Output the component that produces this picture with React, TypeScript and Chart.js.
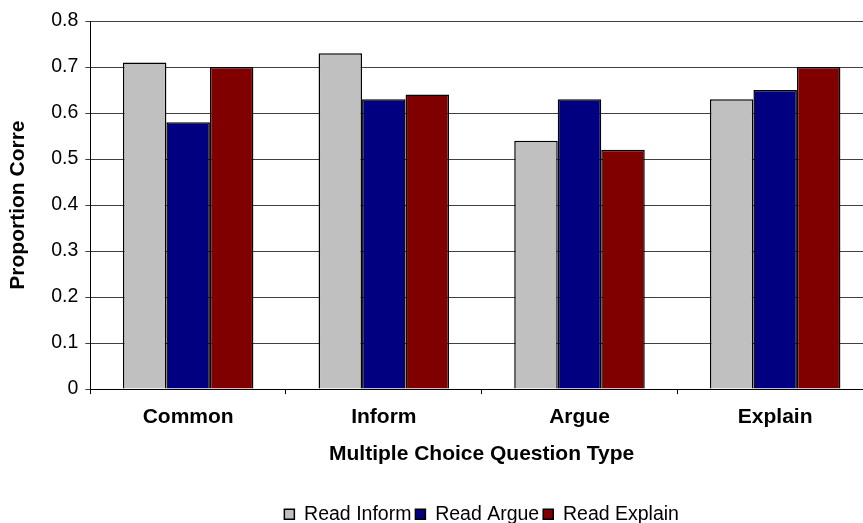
import React, { useEffect, useRef } from "react";
import { Chart, registerables } from "chart.js";

Chart.register(...registerables);

const categories = ["Common", "Inform", "Argue", "Explain"];
const readInform = [0.71, 0.73, 0.54, 0.63];
const readArgue = [0.58, 0.63, 0.63, 0.65];
const readExplain = [0.70, 0.64, 0.52, 0.70];
const seriesNames = ["Read Inform", "Read Argue", "Read Explain"];
const seriesColors = ["#C0C0C0", "#000080", "#800000"];

const FONT = "'Liberation Sans', Arial, sans-serif";

export default function App() {
  const ref = useRef<HTMLCanvasElement | null>(null);

  useEffect(() => {
    if (!ref.current) return;
    const values = [readInform, readArgue, readExplain];
    const chart = new Chart(ref.current, {
      type: "bar",
      data: {
        labels: categories,
        datasets: seriesNames.map((name, i) => ({
          label: name,
          data: values[i],
          backgroundColor: seriesColors[i],
          borderColor: "#000000",
          borderWidth: 1.5,
          borderSkipped: "bottom",
          categoryPercentage: 0.667,
          barPercentage: 1,
        })),
      },
      options: {
        responsive: false,
        animation: false,
        devicePixelRatio: 1,
        layout: { padding: { top: 21, right: 7, bottom: 0, left: 0 } },
        plugins: {
          tooltip: { enabled: false },
          legend: {
            position: "bottom",
            fullSize: false,
            labels: {
              boxWidth: 10,
              boxHeight: 10,
              padding: 4,
              color: "#000",
              font: { family: FONT, size: 19.5 },
              generateLabels: (c) =>
                c.data.datasets.map((d, i) => ({
                  text: d.label as string,
                  fillStyle: seriesColors[i],
                  strokeStyle: "#000",
                  lineWidth: 1.5,
                  datasetIndex: i,
                  hidden: false,
                })),
            },
          },
        },
        scales: {
          x: {
            type: "category",
            grid: {
              display: true,
              offset: true,
              drawOnChartArea: false,
              drawTicks: true,
              tickLength: 5,
              color: "#000",
              lineWidth: 1,
            },
            border: { display: true, color: "#000", width: 1 },
            ticks: {
              color: "#000",
              padding: 11,
              font: { family: FONT, size: 21, weight: "bold" },
              maxRotation: 0,
            },
            title: {
              display: true,
              text: "Multiple Choice Question Type",
              color: "#000",
              font: { family: FONT, size: 21, weight: "bold" },
              padding: { top: 0, bottom: 34 },
            },
          },
          y: {
            min: 0,
            max: 0.8,
            grid: {
              display: true,
              color: "#404040",
              lineWidth: 1,
              tickLength: 5,
              drawTicks: true,
            },
            border: { display: true, color: "#000", width: 1 },
            ticks: {
              stepSize: 0.1,
              color: "#000",
              padding: 7,
              font: { family: FONT, size: 19.5 },
            },
            title: {
              display: true,
              text: "Proportion Corre",
              color: "#000",
              font: { family: FONT, size: 21, weight: "bold" },
              padding: { top: 6, bottom: 13 },
            },
          },
        },
      },
    });
    return () => chart.destroy();
  }, []);

  return (
    <div
      style={{
        position: "absolute",
        left: 0,
        top: 0,
        width: 863,
        height: 523,
        overflow: "hidden",
        background: "#fff",
      }}
    >
      <canvas ref={ref} width={880} height={534} style={{ display: "block" }} />
    </div>
  );
}
